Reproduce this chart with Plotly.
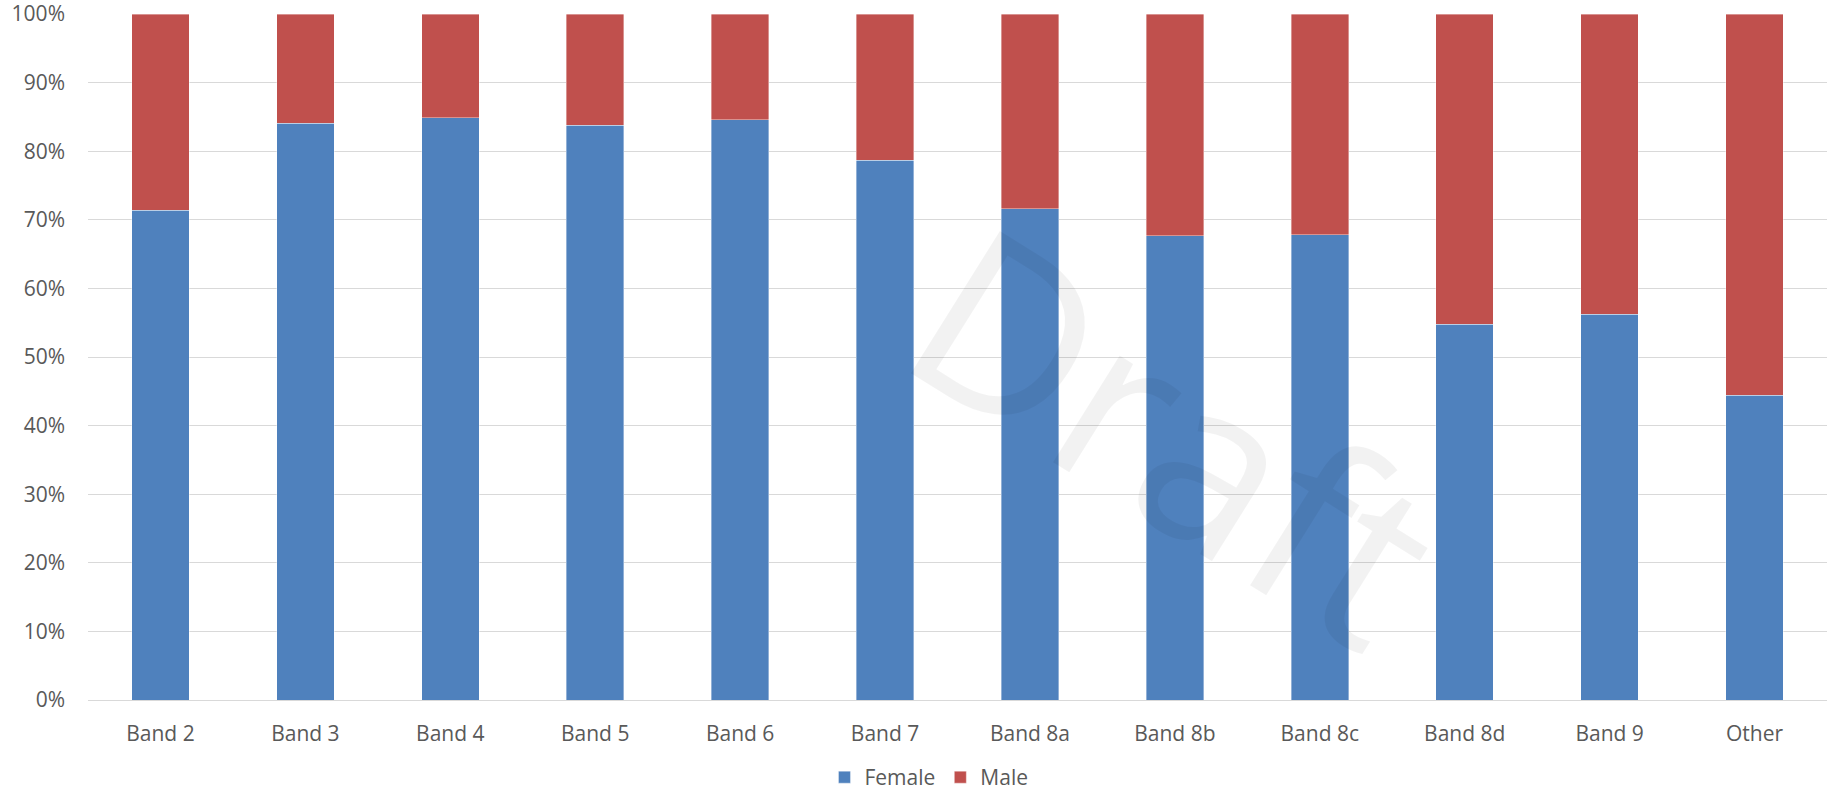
import plotly.graph_objects as go

categories = ["Band 2", "Band 3", "Band 4", "Band 5", "Band 6", "Band 7",
              "Band 8a", "Band 8b", "Band 8c", "Band 8d", "Band 9", "Other"]
female = [71.4, 84.1, 84.9, 83.8, 84.6, 78.7, 71.6, 67.7, 67.8, 54.8, 56.2, 44.4]
male = [28.6, 15.9, 15.1, 16.2, 15.4, 21.3, 28.4, 32.3, 32.2, 45.2, 43.8, 55.6]
y_ticks = [0, 10, 20, 30, 40, 50, 60, 70, 80, 90, 100]

FONT = "Open Sans"
TXT = "#595959"
GRID = "#D9D9D9"

fig = go.Figure()
fig.add_trace(go.Bar(x=categories, y=female, name="Female",
                     marker=dict(color="#4F81BD", line=dict(width=0.75, color="rgba(255,255,255,0.5)"))))
fig.add_trace(go.Bar(x=categories, y=male, name="Male",
                     marker=dict(color="#C0504D", line=dict(width=0.75, color="rgba(255,255,255,0.5)"))))

fig.update_layout(
    width=1827, height=794,
    margin=dict(l=88, r=0, t=14, b=94, autoexpand=False),
    barmode="stack",
    bargap=0.603,
    paper_bgcolor="white",
    plot_bgcolor="white",
    font=dict(family=FONT, size=21, color=TXT),
    showlegend=True,
    legend=dict(orientation="h", x=0.4836, xanchor="center", xref="paper",
                y=-0.113, yref="paper", yanchor="middle",
                font=dict(family=FONT, size=21, color=TXT),
                traceorder="normal", itemwidth=30),
    xaxis=dict(showgrid=False, showline=False, ticks="", ticklabelstandoff=19,
               tickfont=dict(family=FONT, size=21, color=TXT)),
    yaxis=dict(range=[0, 100], tickvals=y_ticks, ticktext=[f"{v}%" for v in y_ticks],
               showgrid=True, gridcolor=GRID, gridwidth=1.2,
               zeroline=True, zerolinecolor=GRID, zerolinewidth=1.2,
               showline=False, ticks="", ticklabelstandoff=22, ticklabeloverflow="allow",
               tickfont=dict(family=FONT, size=21, color=TXT)),
    annotations=[dict(text="Draft", xref="paper", yref="paper", x=0.626, y=0.39,
                      xanchor="center", yanchor="middle", textangle=32, showarrow=False,
                      font=dict(family=FONT, size=235, color="rgba(0,0,0,0.05)"))],
)

fig.write_html("out.html")
